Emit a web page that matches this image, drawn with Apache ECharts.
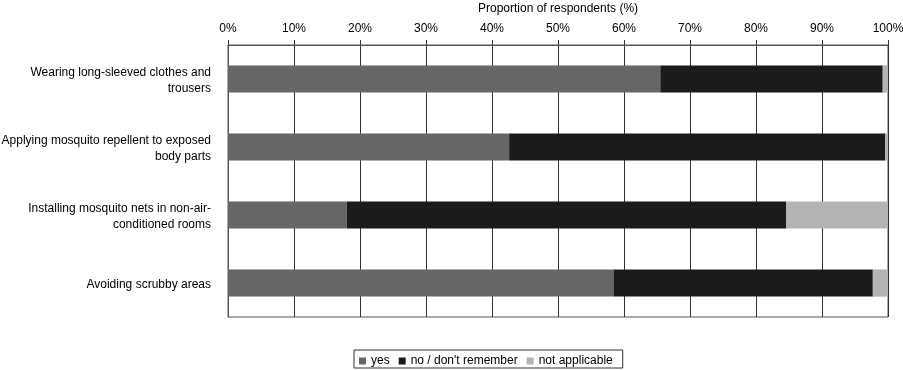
<!DOCTYPE html>
<html>
<head>
<meta charset="utf-8">
<script src="https://cdn.jsdelivr.net/npm/echarts@6/dist/echarts.min.js"></script>
<style>
html,body{margin:0;padding:0;background:#fff;}
#chart{width:903px;height:370px;}
</style>
</head>
<body>
<div id="chart"></div>
<script>
const categories = [
  "Wearing long-sleeved clothes and\ntrousers",
  "Applying mosquito repellent to exposed\nbody parts",
  "Installing mosquito nets in non-air-\nconditioned rooms",
  "Avoiding scrubby areas"
];
const yesValues = [65.5, 42.6, 18.0, 58.4];
const noValues = [33.7, 57.0, 66.6, 39.3];
const naValues = [0.8, 0.4, 15.4, 2.3];
const seriesNames = ["yes", "no / don't remember", "not applicable"];
const axisTitle = "Proportion of respondents (%)";

const font = "'Liberation Sans', Arial, sans-serif";
const chart = echarts.init(document.getElementById('chart'), null, {renderer: 'canvas'});
const colors = ['#666666', '#1b1b1b', '#b3b3b3'];
const vals = [yesValues, noValues, naValues];

chart.setOption({
  animation: false,
  textStyle: {fontFamily: font},
  grid: {left: 228, right: 15, top: 45, bottom: 53, show: true, borderColor: '#555', borderWidth: 1,
         containLabel: false, outerBoundsMode: 'none'},
  legend: {
    top: 350,
    left: 354,
    data: seriesNames,
    itemWidth: 7, itemHeight: 7, itemGap: 9,
    borderColor: '#333', borderWidth: 1,
    padding: [5, 10, 1, 5],
    icon: 'rect',
    textStyle: {fontFamily: font, fontSize: 12, color: '#000'}
  },
  xAxis: {
    type: 'value', position: 'top', min: 0, max: 100, interval: 10,
    name: axisTitle, nameLocation: 'middle', nameGap: 30,
    nameTextStyle: {fontFamily: font, fontSize: 12, color: '#000'},
    axisLabel: {formatter: '{value}%', color: '#000', fontSize: 12, fontFamily: font, margin: 10},
    axisLine: {show: true, lineStyle: {color: '#555', width: 1}},
    axisTick: {show: true, length: 5, lineStyle: {color: '#333'}},
    splitLine: {show: true, lineStyle: {color: '#333', width: 1}}
  },
  yAxis: {
    type: 'category', data: categories, inverse: true,
    axisLine: {show: true, lineStyle: {color: '#555'}},
    axisTick: {show: false},
    axisLabel: {
      color: '#000', fontSize: 12, fontFamily: font, lineHeight: 16, margin: 17, align: 'right',
      formatter: v => v.split('\n').map(s => '{t|' + s + '}').join('\n'),
      rich: {t: {fontSize: 12, fontFamily: font, lineHeight: 16, color: '#000', padding: [3, 0, 0, 0]}}
    }
  },
  series: seriesNames.map((n, i) => ({
    name: n, type: 'bar', stack: 'total', data: vals[i], barWidth: '40%',
    itemStyle: {color: colors[i]}
  }))
});
</script>
</body>
</html>
